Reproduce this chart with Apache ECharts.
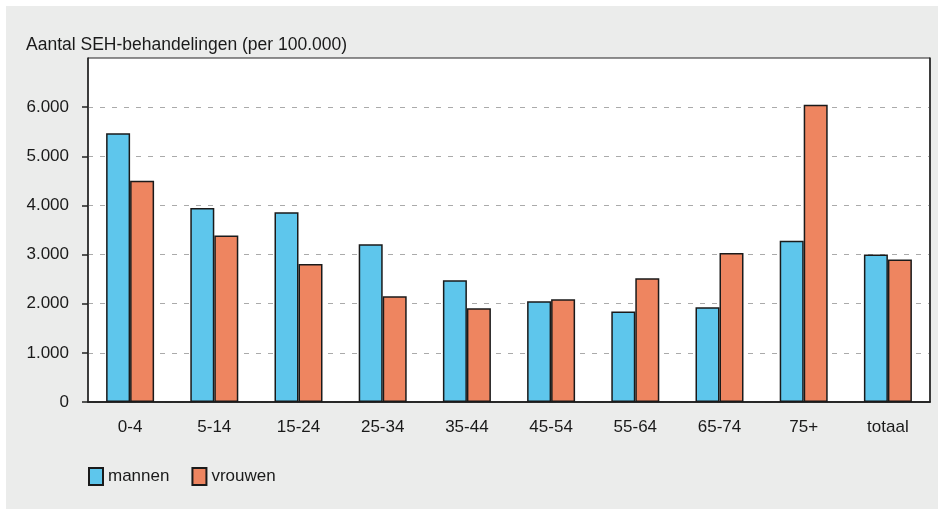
<!DOCTYPE html>
<html>
<head>
<meta charset="utf-8">
<script src="https://cdn.jsdelivr.net/npm/echarts@6/dist/echarts.min.js"></script>
<style>
  html, body { margin: 0; padding: 0; background: #ffffff; }
  #chart {
    position: absolute;
    left: 6px;
    top: 6px;
    width: 932px;
    height: 503px;
  }
</style>
</head>
<body>
<div id="chart"></div>
<script>
  // leeftijdsgroepen
  var categories = ['0-4', '5-14', '15-24', '25-34', '35-44', '45-54', '55-64', '65-74', '75+', 'totaal'];
  // SEH-behandelingen per 100.000
  var mannen = [5470, 3950, 3860, 3210, 2480, 2050, 1840, 1930, 3280, 3000];
  var vrouwen = [4500, 3390, 2810, 2150, 1910, 2090, 2520, 3030, 6050, 2900];
  // labels op de y-as
  var yTicks = [0, 1000, 2000, 3000, 4000, 5000, 6000];

  var font = '"Liberation Sans", Arial, sans-serif';
  var textColor = '#1a1a1a';

  function fmt(v) {
    // duizendtallen met punt
    return String(v).replace(/\B(?=(\d{3})+(?!\d))/g, '.');
  }

  var chart = echarts.init(document.getElementById('chart'));

  var option = {
    backgroundColor: '#ebeceb',
    animation: false,
    title: {
      text: 'Aantal SEH-behandelingen (per 100.000)',
      left: 15,
      top: 25,
      textStyle: { fontFamily: font, fontSize: 17.5, fontWeight: 'normal', color: textColor }
    },
    legend: {
      data: ['mannen', 'vrouwen'],
      icon: 'rect',
      left: 77,
      top: 456,
      itemWidth: 14,
      itemHeight: 17,
      itemGap: 22,
      textStyle: { fontFamily: font, fontSize: 17, color: textColor }
    },
    grid: {
      left: 82,
      right: 8,
      top: 52,
      bottom: 107,
      show: true,
      backgroundColor: '#ffffff',
      borderColor: '#222',
      borderWidth: 1
    },
    xAxis: [
      {
        type: 'category',
        data: categories,
        axisLine: { lineStyle: { color: '#222', width: 1.5 } },
        axisTick: { show: false },
        axisLabel: { margin: 17, fontFamily: font, fontSize: 17, color: textColor }
      },
      {
        type: 'category',
        position: 'top',
        data: categories,
        axisLine: { lineStyle: { color: '#222', width: 1.5 } },
        axisTick: { show: false },
        axisLabel: { show: false }
      }
    ],
    yAxis: [
      {
        type: 'value',
        min: 0,
        max: 7000,
        interval: 1000,
        axisLine: { show: true, lineStyle: { color: '#222', width: 1.5 } },
        axisTick: { show: true, length: 6, customValues: yTicks, lineStyle: { color: '#222', width: 1.5 } },
        axisLabel: {
          margin: 19,
          customValues: yTicks,
          fontFamily: font,
          fontSize: 17,
          color: textColor,
          formatter: fmt
        },
        splitLine: {
          show: true,
          lineStyle: {
            type: [5, 7],
            width: 1.2,
            color: ['#aaaaaa', '#aaaaaa', '#aaaaaa', '#aaaaaa', '#aaaaaa', '#aaaaaa', '#aaaaaa', 'rgba(0,0,0,0)']
          }
        }
      },
      {
        type: 'value',
        position: 'right',
        min: 0,
        max: 7000,
        interval: 1000,
        axisLine: { show: true, lineStyle: { color: '#222', width: 1.5 } },
        axisTick: { show: false },
        axisLabel: { show: false },
        splitLine: { show: false }
      }
    ],
    series: [
      {
        name: 'mannen',
        type: 'bar',
        data: mannen,
        barGap: '0%',
        barCategoryGap: '43%',
        itemStyle: { color: '#5ec6ec', borderColor: '#1a1a1a', borderWidth: 1.5 }
      },
      {
        name: 'vrouwen',
        type: 'bar',
        data: vrouwen,
        barGap: '0%',
        barCategoryGap: '43%',
        itemStyle: { color: '#ee8560', borderColor: '#1a1a1a', borderWidth: 1.5 }
      }
    ]
  };

  chart.setOption(option);
  window.onresize = chart.resize;
</script>
</body>
</html>
